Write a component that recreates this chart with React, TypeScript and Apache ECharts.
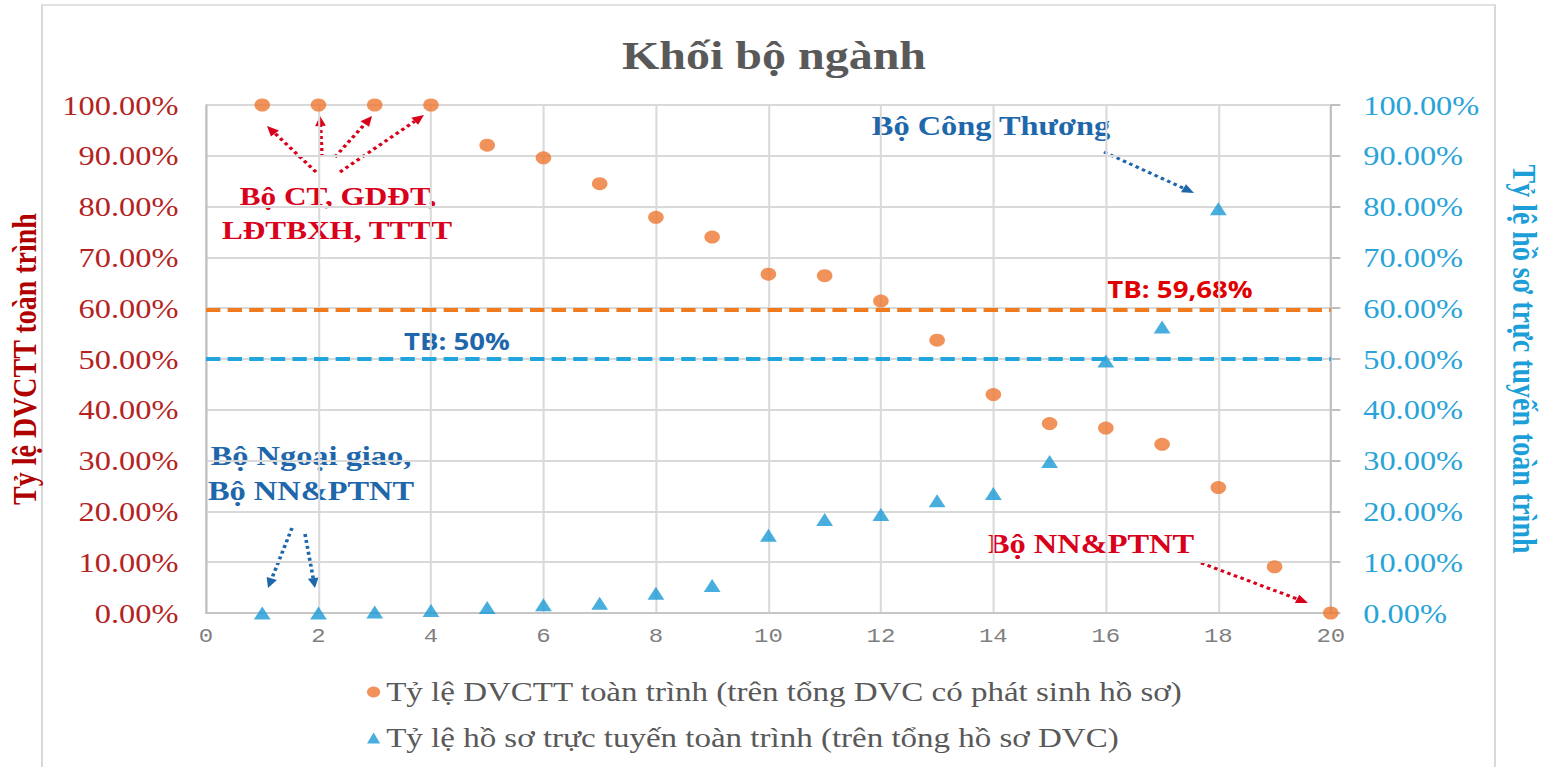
import React, { useEffect, useRef } from "react";
import * as echarts from "echarts";

// ---------- data ----------
const chartTitle = "Khối bộ ngành";
const leftAxisName = "Tỷ lệ DVCTT toàn trình";
const rightAxisName = "Tỷ lệ hồ sơ trực tuyến toàn trình";
const seriesNames = [
  "Tỷ lệ DVCTT toàn trình (trên tổng DVC có phát sinh hồ sơ)",
  "Tỷ lệ hồ sơ trực tuyến toàn trình (trên tổng hồ sơ DVC)",
];
const dvcttIndex = [1, 2, 3, 4, 5, 6, 7, 8, 9, 10, 11, 12, 13, 14, 15, 16, 17, 18, 19, 20];
const dvcttRate = [100, 100, 100, 100, 92.1, 89.6, 84.5, 77.9, 74.0, 66.7, 66.4, 61.4, 53.7, 43.0, 37.3, 36.4, 33.2, 24.7, 9.1, 0];
const hosoIndex = [1, 2, 3, 4, 5, 6, 7, 8, 9, 10, 11, 12, 13, 14, 15, 16, 17, 18];
const hosoRate = [0, 0, 0.2, 0.5, 1.1, 1.6, 1.9, 3.9, 5.4, 15.3, 18.4, 19.4, 22.1, 23.5, 29.8, 49.6, 56.3, 79.6];
const AVG_DVCTT = 59.68;
const AVG_HOSO = 50;
const avgDvcttLabel = "TB: 59,68%";
const avgHosoLabel = "TB: 50%";
const noteTop = ["Bộ CT, GDĐT,", "LĐTBXH, TTTT"];
const noteCongThuong = "Bộ Công Thương";
const noteNgoaiGiao = ["Bộ Ngoại giao,", "Bộ NN&PTNT"];
const noteNN = "Bộ NN&PTNT";
const X_MIN = 0, X_MAX = 20, X_INTERVAL = 2;
const Y_MIN = 0, Y_MAX = 100, Y_INTERVAL = 10;

// ---------- layout ----------
const STRETCH = 1.2;
const PAGE_W = 1547;
const PAGE_H = 767;
const W = PAGE_W / STRETCH;
const sx = (x: number) => x / STRETCH;

const SERIF = "'Liberation Serif', 'Times New Roman', serif";
const SANS = "'Open Sans', 'Noto Sans', sans-serif";
const MONO = "'Liberation Mono', monospace";

const ORANGE = "#EC7730";
const BLUE_MARK = "#1A9AD6";
const RED_NOTE = "#D9001B";
const BLUE_NOTE = "#1F67AB";

function arrow(x1: number, y1: number, x2: number, y2: number, color: string) {
  const ax1 = sx(x1), ax2 = sx(x2);
  const dx = ax2 - ax1, dy = y2 - y1;
  const len = Math.hypot(dx, dy);
  const ux = dx / len, uy = dy / len;
  const L = 10, HW = 4.5;
  const bx = ax2 - ux * L, by = y2 - uy * L;
  return [
    {
      type: "line",
      silent: true,
      shape: { x1: ax1, y1, x2: bx, y2: by },
      style: { stroke: color, lineWidth: 3, lineDash: [3, 3] },
    },
    {
      type: "polygon",
      silent: true,
      shape: { points: [[ax2, y2], [bx - uy * HW, by + ux * HW], [bx + uy * HW, by - ux * HW]] },
      style: { fill: color },
    },
  ];
}

function note(text: string, x: number, y: number, color: string, size = 27, family = SERIF) {
  return {
    type: "text",
    silent: true,
    x: sx(x),
    y,
    style: {
      text,
      fill: color,
      fontFamily: family,
      fontWeight: "bold",
      fontSize: size,
      align: "center",
      verticalAlign: "middle",
    },
  };
}

export default function App() {
  const ref = useRef<HTMLDivElement>(null);

  useEffect(() => {
    if (!ref.current) return;
    const chart = echarts.init(ref.current, undefined, { renderer: "svg" });
    const pct = (v: number) => `${v.toFixed(2)}%`;

    const option: any = {
      animation: false,
      backgroundColor: "#ffffff",
      title: {
        text: chartTitle,
        left: sx(768),
        top: 31,
        textAlign: "center",
        textStyle: { fontFamily: SERIF, fontWeight: "bold", fontSize: 40, color: "#595959" },
      },
      grid: {
        left: sx(206),
        right: W - sx(1331),
        top: 105,
        bottom: PAGE_H - 613,
        containLabel: false,
        outerBoundsMode: "none",
      },
      legend: {
        orient: "vertical",
        left: sx(361),
        top: 673,
        itemWidth: 11,
        itemHeight: 11,
        itemGap: 18,
        textStyle: { fontFamily: SERIF, fontSize: 27.5, color: "#595959" },
        data: [
          { name: seriesNames[0], icon: "circle" },
          { name: seriesNames[1], icon: "triangle" },
        ],
      },
      xAxis: {
        type: "value",
        min: X_MIN,
        max: X_MAX,
        interval: X_INTERVAL,
        axisLine: { show: true, lineStyle: { color: "#BFBFBF", width: 1.7 } },
        axisTick: { show: false },
        splitLine: { show: true, lineStyle: { color: "#D9D9D9", width: 1.7 } },
        axisLabel: { color: "#7F7F7F", fontFamily: MONO, fontSize: 20, margin: 14 },
      },
      yAxis: [
        {
          type: "value",
          position: "left",
          min: Y_MIN,
          max: Y_MAX,
          interval: Y_INTERVAL,
          axisLine: { show: true, lineStyle: { color: "#BFBFBF", width: 1.7 } },
          axisTick: { show: false },
          splitLine: { show: true, lineStyle: { color: "#D9D9D9", width: 2 } },
          axisLabel: { formatter: pct, color: "#B5231F", fontFamily: SERIF, fontSize: 27, margin: 23 },
          name: leftAxisName,
          nameLocation: "middle",
          nameRotate: 90,
          nameGap: 137,
          nameTextStyle: { color: "#B00000", fontFamily: SERIF, fontWeight: "bold", fontSize: 28 },
        },
        {
          type: "value",
          position: "right",
          min: Y_MIN,
          max: Y_MAX,
          interval: Y_INTERVAL,
          axisLine: { show: true, lineStyle: { color: "#BFBFBF", width: 1.7 } },
          axisTick: { show: true, inside: false, length: 8, lineStyle: { color: "#BFBFBF", width: 2 } },
          splitLine: { show: false },
          axisLabel: { formatter: pct, color: "#2AA4D8", fontFamily: SERIF, fontSize: 27, margin: 27 },
          name: rightAxisName,
          nameLocation: "middle",
          nameRotate: -90,
          nameGap: 147,
          nameTextStyle: { color: "#1C9FD8", fontFamily: SERIF, fontWeight: "bold", fontSize: 28 },
        },
      ],
      series: [
        {
          type: "scatter",
          name: seriesNames[0],
          yAxisIndex: 0,
          symbol: "circle",
          symbolSize: 13,
          itemStyle: { color: ORANGE },
          data: dvcttIndex.map((x, i) => [x, dvcttRate[i]]),
          markLine: {
            silent: true,
            symbol: "none",
            label: { show: false },
            lineStyle: { color: "#F07A1E", type: [12, 6], width: 4 },
            data: [{ yAxis: AVG_DVCTT }],
          },
          z: 3,
        },
        {
          type: "scatter",
          name: seriesNames[1],
          yAxisIndex: 1,
          symbol: "triangle",
          symbolSize: [14, 13],
          itemStyle: { color: BLUE_MARK },
          data: hosoIndex.map((x, i) => [x, hosoRate[i]]),
          markLine: {
            silent: true,
            symbol: "none",
            label: { show: false },
            lineStyle: { color: "#22A5DE", type: [12, 6], width: 4 },
            data: [{ yAxis: AVG_HOSO }],
          },
          z: 3,
        },
      ],
      graphic: [
        {
          type: "rect",
          silent: true,
          z: -10,
          shape: { x: sx(42), y: 5, width: sx(1495) - sx(42), height: 900 },
          style: { fill: "none", stroke: "#D9D9D9", lineWidth: 1.7 },
        },
        note(noteTop[0], 338, 196, RED_NOTE, 26),
        note(noteTop[1], 337, 230, RED_NOTE, 26),
        ...arrow(316, 172, 267, 126, RED_NOTE),
        ...arrow(322, 157, 320, 116, RED_NOTE),
        ...arrow(335, 157, 372, 116, RED_NOTE),
        ...arrow(340, 172, 424, 115, RED_NOTE),
        note(noteCongThuong, 991, 125, BLUE_NOTE, 27),
        ...arrow(1104, 152, 1194, 193, BLUE_NOTE),
        note(avgDvcttLabel, 1180, 289, "#E00000", 23, SANS),
        note(avgHosoLabel, 457, 341, BLUE_NOTE, 23, SANS),
        note(noteNgoaiGiao[0], 311, 455, BLUE_NOTE, 27),
        note(noteNgoaiGiao[1], 311, 490, BLUE_NOTE, 27),
        ...arrow(292, 528, 268, 588, BLUE_NOTE),
        ...arrow(305, 534, 315, 588, BLUE_NOTE),
        note(noteNN, 1091, 543, RED_NOTE, 27),
        ...arrow(1201, 563, 1308, 603, RED_NOTE),
      ],
    };

    chart.setOption(option);
    return () => chart.dispose();
  }, []);

  return (
    <div
      ref={ref}
      style={{
        position: "fixed",
        left: 0,
        top: 0,
        width: `${W}px`,
        height: `${PAGE_H}px`,
        transform: `scaleX(${STRETCH})`,
        transformOrigin: "0 0",
        background: "#ffffff",
      }}
    />
  );
}
